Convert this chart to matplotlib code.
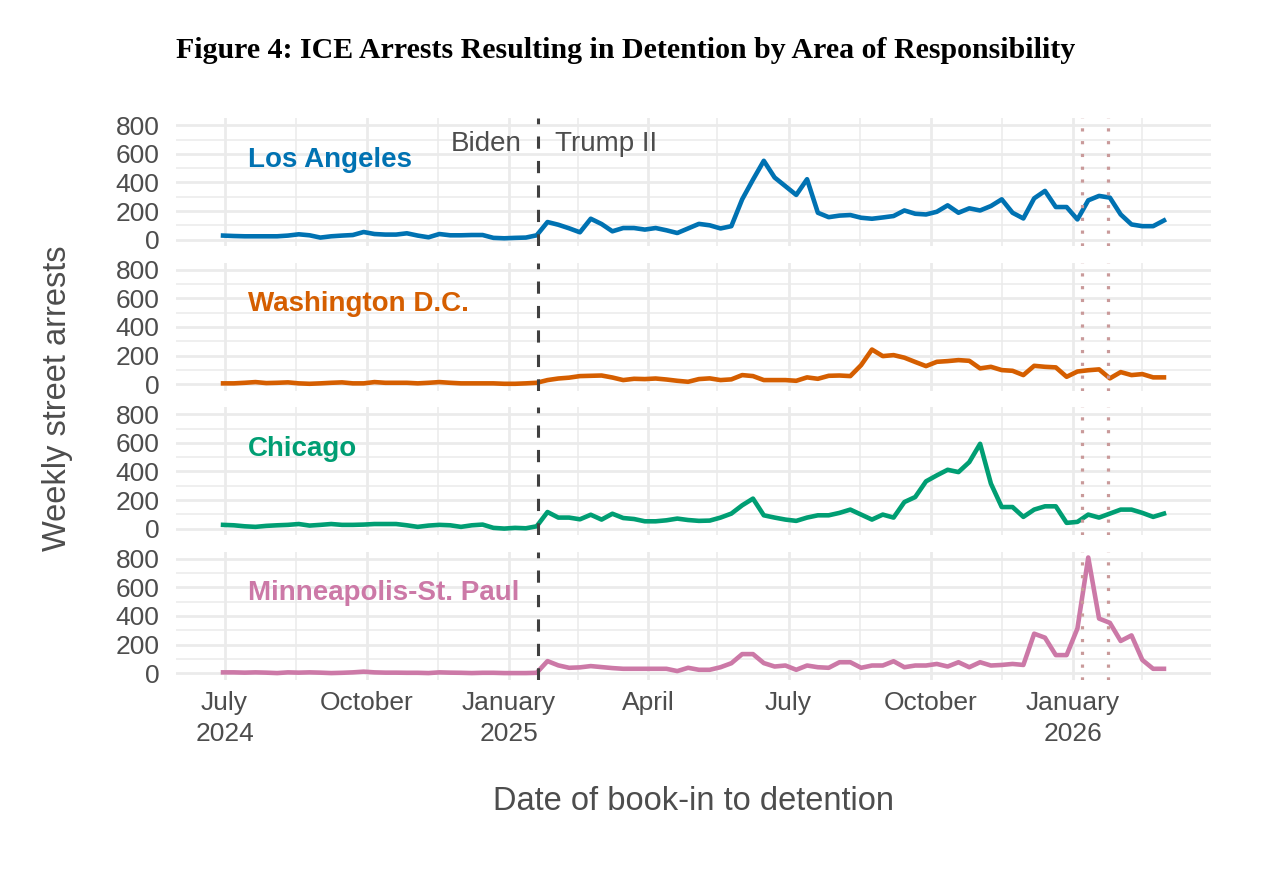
import matplotlib
matplotlib.use("Agg")
import matplotlib.pyplot as plt
import pandas as pd

# Weekly book-ins, one value per week starting 2024-06-30
weeks = pd.date_range("2024-06-30", periods=88, freq="7D")

los_angeles = [28, 25, 23, 23, 23, 23, 28, 37, 30, 14,
               23, 28, 32, 53, 39, 35, 35, 44, 28, 16,
               39, 30, 30, 32, 32, 12, 9, 12, 14, 30,
               123, 104, 79, 51, 146, 109, 58, 81, 81, 70,
               81, 65, 46, 78, 110, 100, 78, 94, 282, 420,
               552, 435, 374, 313, 423, 188, 157, 168, 172, 153,
               146, 155, 165, 204, 181, 176, 195, 240, 188, 219,
               204, 235, 282, 188, 148, 289, 341, 228, 228, 141,
               275, 306, 294, 176, 106, 94, 94, 134]

washington = [5, 5, 9, 14, 7, 9, 12, 5, 2, 5,
              9, 12, 5, 5, 14, 9, 9, 9, 5, 9,
              14, 9, 5, 5, 5, 5, 2, 2, 5, 9,
              28, 39, 45, 56, 58, 60, 46, 28, 37, 35,
              39, 32, 23, 16, 35, 40, 28, 33, 63, 56,
              28, 28, 28, 23, 47, 37, 58, 60, 56, 133,
              242, 196, 203, 185, 155, 126, 156, 161, 168, 163,
              110, 121, 98, 93, 63, 128, 121, 117, 51, 88,
              97, 103, 40, 84, 63, 70, 47, 47]

chicago = [26, 23, 16, 12, 19, 23, 26, 32, 21, 26,
           32, 26, 26, 28, 32, 32, 32, 23, 12, 21,
           26, 23, 12, 23, 28, 5, 0, 5, 2, 16,
           116, 77, 77, 65, 97, 63, 104, 74, 67, 51,
           51, 58, 70, 60, 54, 56, 77, 105, 163, 210,
           93, 77, 63, 54, 77, 93, 93, 110, 133, 98,
           63, 98, 77, 186, 221, 331, 373, 412, 396, 466,
           594, 315, 151, 151, 82, 133, 156, 156, 40, 47,
           98, 77, 105, 133, 133, 110, 82, 105]

minneapolis = [5, 5, 3, 5, 3, 0, 5, 3, 5, 3,
               0, 2, 5, 10, 5, 3, 3, 2, 2, 0,
               5, 3, 2, 0, 2, 2, 0, 0, 0, 2,
               84, 54, 37, 40, 49, 42, 35, 30, 30, 30,
               30, 30, 14, 37, 23, 23, 41, 69, 133, 133,
               70, 46, 53, 23, 53, 41, 37, 76, 76, 37,
               53, 53, 83, 41, 53, 53, 64, 46, 76, 41,
               76, 53, 57, 64, 57, 276, 248, 126, 126, 313,
               810, 382, 352, 225, 264, 92, 30, 30]

areas = ["Los Angeles", "Washington D.C.", "Chicago", "Minneapolis-St. Paul"]
series = [los_angeles, washington, chicago, minneapolis]
colors = ["#0072B2", "#D55E00", "#009E73", "#CC79A7"]

inauguration = pd.Timestamp("2025-01-20")
events = [pd.Timestamp("2026-01-07"), pd.Timestamp("2026-01-24")]

x_breaks = pd.to_datetime(["2024-07-01", "2024-10-01", "2025-01-01", "2025-04-01",
                           "2025-07-01", "2025-10-01", "2026-01-01"])
x_minor = pd.to_datetime(["2024-08-16", "2024-11-16", "2025-02-15", "2025-05-16",
                          "2025-08-16", "2025-11-16", "2026-02-15"])
x_labels = ["July\n2024", "October", "January\n2025", "April",
            "July", "October", "January\n2026"]

plt.rcParams["font.family"] = ["Liberation Sans", "DejaVu Sans"]
grey_text = "#4D4D4D"
grid_col = "#EBEBEB"

W, H = 1266, 874
fig = plt.figure(figsize=(W / 100, H / 100), dpi=100)

left = 176 / W
width = (1211 - 176) / W
tops = [118, 262.5, 407, 551.5]
ph = 128

span = weeks[-1] - weeks[0]
xlim = (weeks[0] - span * 0.05, weeks[-1] + span * 0.05)

for k in range(4):
    ax = fig.add_axes([left, 1 - (tops[k] + ph) / H, width, ph / H])
    ax.plot(weeks, series[k], color=colors[k], lw=3.3, solid_joinstyle="round")
    ax.set_xlim(xlim)
    ax.set_ylim(-45, 852)

    ax.set_yticks([0, 200, 400, 600, 800])
    ax.set_yticks([100, 300, 500, 700], minor=True)
    ax.set_xticks(x_breaks)
    ax.set_xticks(x_minor, minor=True)
    if k == 3:
        ax.set_xticklabels(x_labels, linespacing=1.4)
    else:
        ax.set_xticklabels([])

    ax.grid(which="major", color=grid_col, lw=2.0)
    ax.grid(which="minor", color=grid_col, lw=1.1)
    ax.set_axisbelow(True)
    for s in ax.spines.values():
        s.set_visible(False)
    ax.tick_params(which="both", length=0)
    ax.tick_params(axis="y", labelsize=19, labelcolor=grey_text, pad=12)
    ax.tick_params(axis="x", labelsize=19, labelcolor=grey_text, pad=8)

    ax.axvline(inauguration, color="#404040", lw=2.2, linestyle=(0, (4, 4)))
    for d in events:
        ax.axvline(d, color="#C99A9A", lw=2.3, linestyle=(0, (1, 3)))

    ax.text(pd.Timestamp("2024-07-16"), 510, areas[k], color=colors[k],
            fontsize=20, fontweight="bold", ha="left", va="baseline")

    if k == 0:
        ax.annotate("Biden", xy=(inauguration, 623), xytext=(-12, 0),
                    textcoords="offset points", ha="right", va="baseline",
                    fontsize=20, color=grey_text)
        ax.annotate("Trump II", xy=(inauguration, 623), xytext=(12, 0),
                    textcoords="offset points", ha="left", va="baseline",
                    fontsize=20, color=grey_text)

fig.text(626 / W, 1 - 50 / H,
         "Figure 4: ICE Arrests Resulting in Detention by Area of Responsibility",
         family="Liberation Serif", fontweight="bold", fontsize=21.5,
         ha="center", va="center", color="black")
fig.text(58 / W, 1 - 398 / H, "Weekly street arrests", rotation=90,
         fontsize=23.5, color=grey_text, ha="center", va="center")
fig.text(693 / W, 1 - 802 / H, "Date of book-in to detention",
         fontsize=23.5, color=grey_text, ha="center", va="center")

fig.savefig("out.png", dpi=100)
